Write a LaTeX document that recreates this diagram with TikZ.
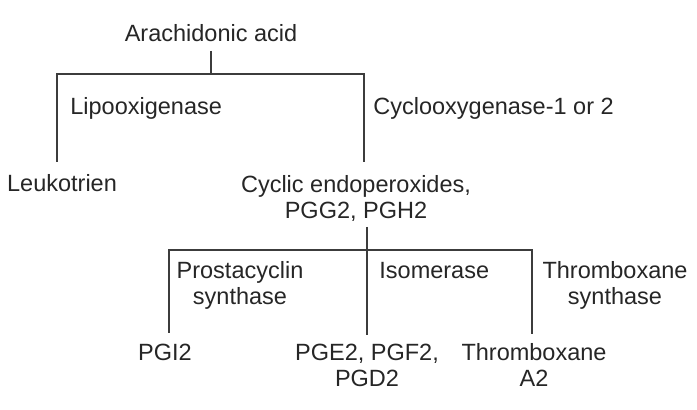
\documentclass[tikz,border=0pt]{standalone}
\usepackage{fontspec}
\setmainfont{Liberation Sans}
\definecolor{txt}{HTML}{262626}
\definecolor{ln}{HTML}{3C3C3C}
\begin{document}
\begin{tikzpicture}[x=0.5pt,y=-0.5pt,
  lbl/.style={inner sep=0pt, anchor=base, align=center, text=txt,
    font=\fontsize{11.75}{13}\selectfont},
  lblw/.style={lbl, anchor=base west, align=left},
  tree/.style={draw=ln, line width=0.7pt}]
\useasboundingbox[fill=white] (0,0) rectangle (697,410);
% texts (multi-line nodes are placed at the baseline of their last line)
\node[lbl] (aa) at (211,42) {Arachidonic acid};
\node[lblw] (lipo) at (70,115) {Lipooxigenase};
\node[lblw] (cox) at (373,115) {Cyclooxygenase-1 or 2};
\node[lbl] (leuk) at (62,192) {Leukotrien};
\node[lbl] (cyc) at (356,219) {Cyclic endoperoxides,\\PGG2, PGH2};
\node[lbl] (pcs) at (240,305) {Prostacyclin\\synthase};
\node[lblw] (iso) at (379,279) {Isomerase};
\node[lbl] (txs) at (615,305) {Thromboxane\\synthase};
\node[lbl] (pgi) at (165,361) {PGI2};
\node[lbl] (pge) at (367,387) {PGE2, PGF2,\\PGD2};
\node[lbl] (txa) at (534,387) {Thromboxane\\A2};
% connectors
\coordinate (a0) at (211,51);
\coordinate (j1) at (211,74);
\coordinate (l1) at (57,74);
\coordinate (r1) at (364,74);
\coordinate (l2) at (57,162);
\coordinate (r2) at (364,162);
\draw[tree] (a0) -- (j1);
\draw[tree] (l2) -- (l1) -- (r1) -- (r2);
\coordinate (c0) at (367,227);
\coordinate (j2) at (367,250);
\coordinate (c1) at (367,335);
\coordinate (l3) at (169,250);
\coordinate (r3) at (532,250);
\coordinate (l4) at (169,333);
\coordinate (r4) at (532,334);
\draw[tree] (c0) -- (c1);
\draw[tree] (l4) -- (l3) -- (r3) -- (r4);
\end{tikzpicture}
\end{document}
